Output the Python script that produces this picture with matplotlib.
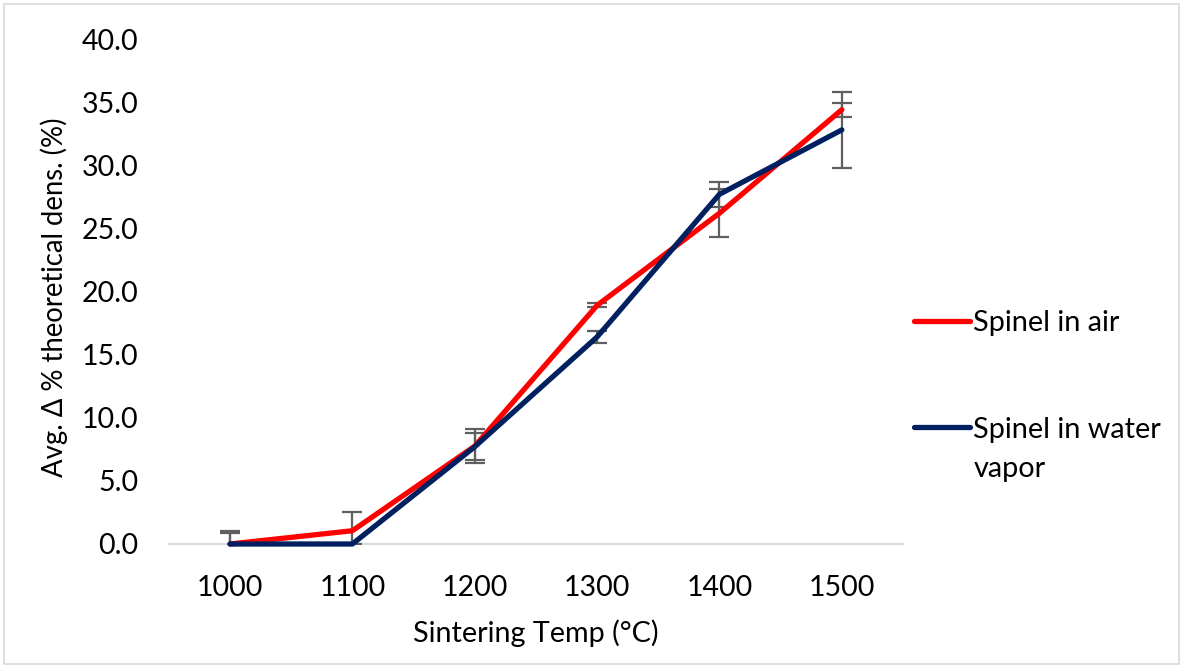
import matplotlib
matplotlib.use("Agg")
from matplotlib import pyplot as plt
from matplotlib.legend_handler import HandlerLine2D
import numpy as np

# Data
temps = ['1000', '1100', '1200', '1300', '1400', '1500']
air = [0.0, 1.05, 7.75, 18.9, 26.2, 34.4]
air_err = [1.05, 1.45, 1.35, 0.15, 1.9, 0.55]
water = [0.0, 0.0, 7.7, 16.4, 27.7, 32.8]
water_err = [0.85, 0.0, 1.06, 0.5, 0.98, 3.0]

plt.rcParams['font.family'] = ['Lato', 'DejaVu Sans']


class FirstLineHandler(HandlerLine2D):
    # put the legend line level with the first line of a wrapped label
    def __init__(self, shift=0.0, **kw):
        super().__init__(**kw)
        self.shift = shift

    def create_artists(self, legend, orig_handle, xdescent, ydescent, width, height, fontsize, trans):
        return super().create_artists(legend, orig_handle, xdescent, ydescent - 2 * self.shift,
                                      width, height, fontsize, trans)


fig = plt.figure(figsize=(11.83, 6.68), dpi=100)
ax = fig.add_axes([168.8 / 1183, 1 - 544 / 668, (903 - 168.8) / 1183, (544 - 39) / 668])

x = np.arange(len(temps))
err_color = '#5f5f5f'

# error bars first, lines on top
ax.errorbar(x, air, yerr=air_err, fmt='none', ecolor=err_color, elinewidth=1.6,
            capsize=7, capthick=1.6, zorder=2)
ax.errorbar(x, water, yerr=water_err, fmt='none', ecolor=err_color, elinewidth=1.6,
            capsize=7, capthick=1.6, zorder=2)

l1, = ax.plot(x, air, color='#ff0000', lw=3.8, solid_capstyle='round', solid_joinstyle='round',
              label='Spinel in air', zorder=3, clip_on=False)
l2, = ax.plot(x, water, color='#002060', lw=3.8, solid_capstyle='round', solid_joinstyle='round',
              label='Spinel in water\nvapor', zorder=4, clip_on=False)

ax.set_xlim(-0.5, len(temps) - 0.5)
ax.set_ylim(0, 40)
ax.set_xticks(x)
ax.set_xticklabels(temps)
ax.set_yticks(np.arange(0, 41, 5))
ax.set_yticklabels(['%.1f' % v for v in np.arange(0, 41, 5)])
ax.tick_params(length=0, labelsize=20.5, colors='#000000')
ax.tick_params(axis='x', pad=22)
ax.tick_params(axis='y', pad=22)

for s in ['top', 'right', 'left']:
    ax.spines[s].set_visible(False)
ax.spines['bottom'].set_color('#d9d9d9')
ax.spines['bottom'].set_linewidth(1.5)
ax.spines['bottom'].set_zorder(1)

ax.set_xlabel('Sintering Temp (°C)', fontsize=20.7, va='center')
ax.xaxis.set_label_coords(0.5, (544 - 633) / 505)
ax.set_ylabel('Avg. Δ % theoretical dens. (%)', fontsize=19.8, va='center', ha='center')
ax.yaxis.set_label_coords((54 - 168.8) / 734.2, (544 - 297) / 505)

leg = fig.legend(handles=[l1, l2], loc='upper left', bbox_to_anchor=(914 / 1183, 1 - 310 / 668),
                 frameon=False, fontsize=20.8, handlelength=1.95, handletextpad=0.1,
                 labelspacing=2.8, borderpad=0, borderaxespad=0,
                 handler_map={l1: FirstLineHandler(), l2: FirstLineHandler(shift=16.5)})
for t in leg.get_texts():
    t.set_linespacing(1.62)

# light grey frame round the whole chart
fig.patches.append(plt.Rectangle((4 / 1183, 4 / 668), 1 - 8 / 1183, 1 - 8 / 668,
                                 transform=fig.transFigure, fill=False,
                                 edgecolor='#d9d9d9', lw=1.2))

fig.savefig('out.png', dpi=100)
